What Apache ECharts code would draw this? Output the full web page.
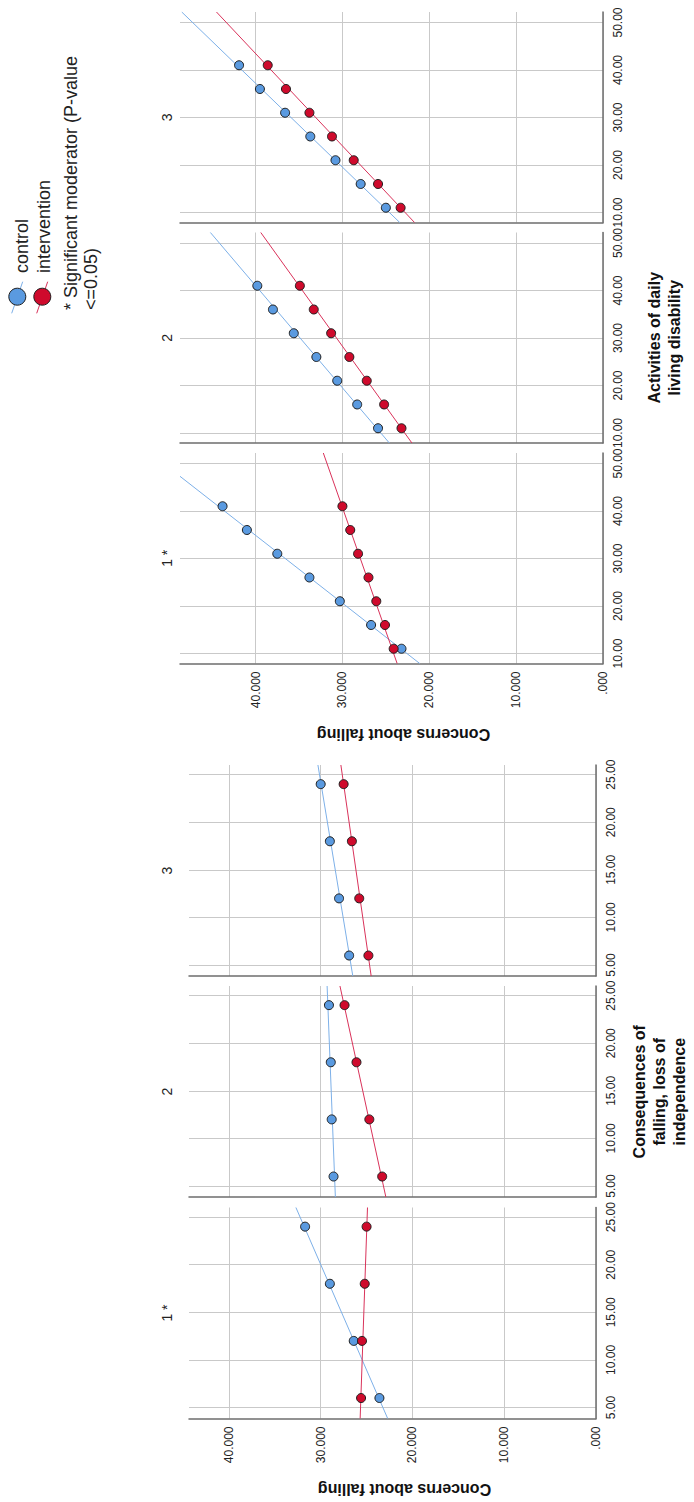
<!DOCTYPE html>
<html>
<head>
<meta charset="utf-8">
<script src="https://cdn.jsdelivr.net/npm/echarts@6.0.0/dist/echarts.min.js"></script>
<style>
html, body { margin: 0; padding: 0; background: #fff; }
#chart { width: 694px; height: 1502px; }
</style>
</head>
<body>
<div id="chart"></div>
<script>
// panels listed as 1 *, 2, 3 (drawn bottom to top within each group)
var panelNames = ['1 *', '2', '3'];
var seriesNames = ['control', 'intervention'];

// concerns about falling axis
var concernTicks = [0, 10, 20, 30, 40];
var concernTickLabels = ['.000', '10.000', '20.000', '30.000', '40.000'];

// Activities of daily living disability group
var adlTicks = [10, 20, 30, 40, 50];
var adlLevels = [11, 16, 21, 26, 31, 36, 41];
var adlControl = [
  [23.2, 26.7, 30.3, 33.8, 37.5, 41.0, 43.8],
  [25.9, 28.3, 30.6, 33.0, 35.6, 38.0, 39.8],
  [25.0, 27.9, 30.8, 33.7, 36.6, 39.5, 41.9]
];
var adlIntervention = [
  [24.1, 25.1, 26.1, 27.0, 28.2, 29.1, 30.0],
  [23.2, 25.2, 27.2, 29.2, 31.3, 33.3, 34.9],
  [23.3, 25.9, 28.7, 31.2, 33.8, 36.5, 38.6]
];
// fit lines, [adl, concern] at each end
var adlControlFit = [
  [[7.89, 21.1], [47.3, 48.7]],
  [[7.89, 24.6], [52.21, 45.2]],
  [[7.89, 23.4], [52.21, 48.5]]
];
var adlInterventionFit = [
  [[7.89, 23.7], [52.21, 32.2]],
  [[7.89, 22.0], [52.21, 39.4]],
  [[7.89, 21.7], [52.21, 44.5]]
];

// Consequences of falling, loss of independence group
var cfTicks = [5, 10, 15, 20, 25];
var cfLevels = [6, 12, 18, 24];
var cfControl = [
  [23.6, 26.4, 29.0, 31.7],
  [28.6, 28.8, 28.9, 29.1],
  [26.9, 28.0, 29.0, 30.0]
];
var cfIntervention = [
  [25.6, 25.5, 25.2, 25.0],
  [23.3, 24.7, 26.1, 27.4],
  [24.8, 25.8, 26.6, 27.5]
];
var cfControlFit = [
  [[3.85, 22.7], [26.01, 32.7]],
  [[3.85, 28.4], [26.01, 29.3]],
  [[3.85, 26.5], [26.01, 30.3]]
];
var cfInterventionFit = [
  [[3.85, 25.7], [26.01, 24.9]],
  [[3.85, 22.9], [26.01, 27.9]],
  [[3.85, 24.5], [26.01, 27.8]]
];

var FONT = 'Liberation Sans, Arial, sans-serif';
var blueFill = '#5a9ae0', redFill = '#cf0a2c';
var blueLine = '#7db0e8', redLine = '#d9325a';
var edge = '#1f1f1f';

var groups = [
  {
    title: 'Activities of daily\nliving disability',
    levels: adlLevels, control: adlControl, interv: adlIntervention,
    controlFit: adlControlFit, intervFit: adlInterventionFit,
    yMin: 7.89, yMax: 52.21, yTicks: adlTicks,
    xMax: 48.7, left: 180, width: 423,
    tops: [453, 232.5, 12], height: 210.5,
    titleX: 664, nameY: 734
  },
  {
    title: 'Consequences of\nfalling, loss of\nindependence',
    levels: cfLevels, control: cfControl, interv: cfIntervention,
    controlFit: cfControlFit, intervFit: cfInterventionFit,
    yMin: 3.85, yMax: 26.01, yTicks: cfTicks,
    xMax: 44.35, left: 189, width: 407,
    tops: [1207.5, 986, 765], height: 211,
    titleX: 659, nameY: 1489
  }
];

function onTick(v, ticks) {
  for (var i = 0; i < ticks.length; i++) {
    if (Math.abs(v - ticks[i]) < 1e-6) return i;
  }
  return -1;
}

var grids = [], xAxes = [], yAxes = [], series = [], graphics = [];

groups.forEach(function (g) {
  for (var p = 0; p < 3; p++) {
    var idx = grids.length;
    grids.push({ left: g.left, top: g.tops[p], width: g.width, height: g.height });
    xAxes.push({
      gridIndex: idx, type: 'value', inverse: true,
      min: 0, max: g.xMax, splitNumber: 5,
      axisLine: { show: true, onZero: false, lineStyle: { color: '#6e6e6e', width: 1.5 } },
      axisTick: { show: false },
      axisLabel: {
        show: p === 0, rotate: 90, margin: 8, fontSize: 12, color: '#222', fontFamily: FONT,
        formatter: function (v) {
          var i = onTick(v, concernTicks);
          return i < 0 ? '' : concernTickLabels[i];
        }
      },
      splitLine: { show: true, showMaxLine: false, lineStyle: { color: '#c9c9c9', width: 1 } }
    });
    yAxes.push({
      gridIndex: idx, type: 'value', position: 'right',
      min: g.yMin, max: g.yMax, splitNumber: 5,
      axisLine: { show: true, onZero: false, lineStyle: { color: '#6e6e6e', width: 1.5 } },
      axisTick: { show: false },
      axisLabel: {
        show: true, rotate: 90, margin: 9, fontSize: 12, color: '#222', fontFamily: FONT,
        formatter: (function (ticks) {
          return function (v) { return onTick(v, ticks) < 0 ? '' : v.toFixed(2); };
        })(g.yTicks)
      },
      splitLine: { show: true, showMinLine: false, showMaxLine: false, lineStyle: { color: '#c9c9c9', width: 1 } }
    });

    var fits = [[g.controlFit[p], blueLine], [g.intervFit[p], redLine]];
    fits.forEach(function (f, k) {
      series.push({
        name: seriesNames[k], type: 'line', xAxisIndex: idx, yAxisIndex: idx,
        data: f[0].map(function (pt) { return [pt[1], pt[0]]; }),
        showSymbol: false, clip: true, silent: true, z: 2,
        lineStyle: { color: f[1], width: 1 }
      });
    });
    var pts = [[g.control[p], blueFill], [g.interv[p], redFill]];
    pts.forEach(function (s, k) {
      series.push({
        name: seriesNames[k], type: 'scatter', xAxisIndex: idx, yAxisIndex: idx,
        data: g.levels.map(function (a, i) { return [s[0][i], a]; }),
        symbolSize: 9, silent: true, z: 3,
        itemStyle: { color: s[1], borderColor: edge, borderWidth: 1, opacity: 1 }
      });
    });

    graphics.push({
      type: 'text', x: 166.5, y: g.tops[p] + g.height / 2, rotation: Math.PI / 2,
      style: { text: panelNames[p], fontSize: 14, fontFamily: FONT, fill: '#222',
        align: 'center', verticalAlign: 'middle', textAlign: 'center', textVerticalAlign: 'middle' }
    });
  }
  var midY = (g.tops[2] + g.tops[0] + g.height) / 2;
  graphics.push({
    type: 'text', x: g.titleX, y: midY, rotation: Math.PI / 2,
    style: { text: g.title, fontSize: 16, fontWeight: 'bold', fontFamily: FONT, fill: '#111', lineHeight: 20,
      align: 'center', verticalAlign: 'middle', textAlign: 'center', textVerticalAlign: 'middle' }
  });
  graphics.push({
    type: 'text', x: g.left + g.width / 2 + 12, y: g.nameY, rotation: Math.PI,
    style: { text: 'Concerns about falling', fontSize: 16, fontWeight: 'bold', fontFamily: FONT, fill: '#111',
      align: 'center', verticalAlign: 'middle', textAlign: 'center', textVerticalAlign: 'middle' }
  });
});

// legend, drawn turned like the rest of the figure
var legendItems = [[blueFill, blueLine, 17.3, 22], [redFill, redLine, 42.3, 44]];
legendItems.forEach(function (it, k) {
  graphics.push({ type: 'line', shape: { x1: it[2] - 5.6, y1: 313.3, x2: it[2] + 5.4, y2: 281.7 },
    style: { stroke: it[1], lineWidth: 1 } });
  graphics.push({ type: 'circle', shape: { cx: it[2], cy: 296.7, r: 8.5 },
    style: { fill: it[0], stroke: edge, lineWidth: 1 } });
  graphics.push({ type: 'text', x: it[3], y: 273, rotation: Math.PI / 2,
    style: { text: seriesNames[k], fontSize: 18, fontFamily: FONT, fill: '#222',
      align: 'left', verticalAlign: 'middle', textAlign: 'left', textVerticalAlign: 'middle' } });
});
graphics.push({ type: 'text', x: 81, y: 310, rotation: Math.PI / 2,
  style: { text: '* Significant moderator (P-value\n<=0.05)', fontSize: 18, fontFamily: FONT, fill: '#222',
    lineHeight: 20, align: 'left', verticalAlign: 'middle', textAlign: 'left', textVerticalAlign: 'middle' } });

var myChart = echarts.init(document.getElementById('chart'), null, { renderer: 'svg' });
myChart.setOption({
  animation: false,
  backgroundColor: '#fff',
  grid: grids,
  xAxis: xAxes,
  yAxis: yAxes,
  series: series,
  graphic: graphics
});
</script>
</body>
</html>
